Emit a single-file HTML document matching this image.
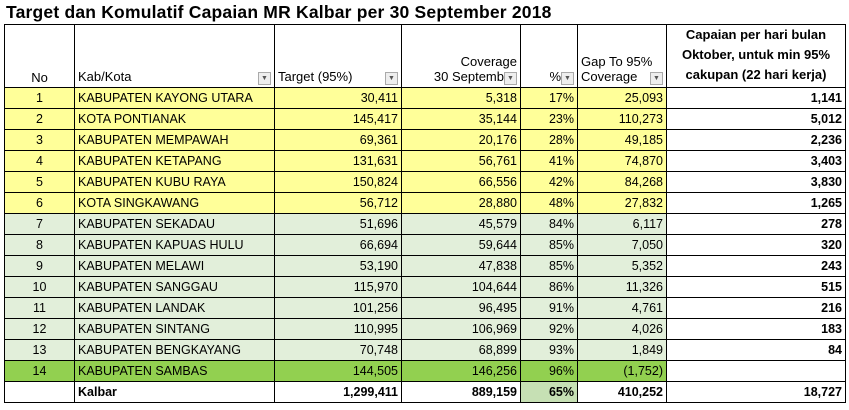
<!DOCTYPE html>
<html><head><meta charset="utf-8"><style>
body{margin:0;background:#fff;width:849px;height:410px;overflow:hidden;font-family:"Liberation Sans",sans-serif;}
h1{position:absolute;left:6px;top:2px;margin:0;font-size:17.5px;font-weight:bold;color:#000;letter-spacing:0.2px}
table{position:absolute;left:4px;top:24px;border-collapse:collapse;table-layout:fixed;font-size:12.5px}
td{border:1px solid #000;height:20px;padding:0 3px;white-space:nowrap;overflow:hidden;box-sizing:border-box}
tbody tr td{height:21px}
tr.h td{height:63px;vertical-align:bottom;padding-bottom:2px;background:#fff;font-size:13px}
.c{text-align:center}.r{text-align:right}
.y td{background:#ffff99}.g td{background:#e2efda}.s td{background:#92d050}
td.w{background:#fff!important;font-weight:bold;text-align:right}
.t td{background:#fff;font-weight:bold}
.dd{display:inline-block;width:11px;height:11px;border:1px solid #aaa;background:#eee;font-size:7px;line-height:11px;text-align:center;color:#555;vertical-align:middle;float:right;margin-top:3px}
</style></head><body>
<h1>Target dan Komulatif Capaian MR Kalbar per 30 September 2018</h1>
<table>
<colgroup><col style="width:70px"><col style="width:200px"><col style="width:127px"><col style="width:119px"><col style="width:57px"><col style="width:89px"><col style="width:179px"></colgroup>
<tr class="h">
<td class="c">No</td>
<td>Kab/Kota<span class="dd">▼</span></td>
<td>Target (95%)<span class="dd">▼</span></td>
<td class="r">Coverage<br>30 Septemb<span class="dd">▼</span></td>
<td class="r">%<span class="dd">▼</span></td>
<td>Gap To 95%<br>Coverage<span class="dd">▼</span></td>
<td class="c" style="font-weight:bold;line-height:20px">Capaian per hari bulan<br>Oktober, untuk min 95%<br>cakupan (22 hari kerja)</td>
</tr>
<tbody id="tb"></tbody>
</table>
<script>
const nos=[1,2,3,4,5,6,7,8,9,10,11,12,13,14];
const names=["KABUPATEN KAYONG UTARA","KOTA PONTIANAK","KABUPATEN MEMPAWAH","KABUPATEN KETAPANG","KABUPATEN KUBU RAYA","KOTA SINGKAWANG","KABUPATEN SEKADAU","KABUPATEN KAPUAS HULU","KABUPATEN MELAWI","KABUPATEN SANGGAU","KABUPATEN LANDAK","KABUPATEN SINTANG","KABUPATEN BENGKAYANG","KABUPATEN SAMBAS"];
const targets=["30,411","145,417","69,361","131,631","150,824","56,712","51,696","66,694","53,190","115,970","101,256","110,995","70,748","144,505"];
const coverage=["5,318","35,144","20,176","56,761","66,556","28,880","45,579","59,644","47,838","104,644","96,495","106,969","68,899","146,256"];
const pct=["17%","23%","28%","41%","42%","48%","84%","85%","85%","86%","91%","92%","93%","96%"];
const gaps=["25,093","110,273","49,185","74,870","84,268","27,832","6,117","7,050","5,352","11,326","4,761","4,026","1,849","(1,752)"];
const daily=["1,141","5,012","2,236","3,403","3,830","1,265","278","320","243","515","216","183","84",""];
const tb=document.getElementById('tb');
nos.forEach((n,i)=>{
  const tr=document.createElement('tr');
  tr.className=i<6?'y':(i<13?'g':'s');
  
  
  tr.innerHTML=`<td class="c">${n}</td><td>${names[i]}</td><td class="r">${targets[i]}</td><td class="r">${coverage[i]}</td><td class="r">${pct[i]}</td><td class="r">${gaps[i]}</td><td class="w">${daily[i]}</td>`;
  tb.appendChild(tr);
});
const t=document.createElement('tr');
t.className='t';


t.innerHTML='<td></td><td>Kalbar</td><td class="r">1,299,411</td><td class="r">889,159</td><td class="r" style="background:#c6e0b4">65%</td><td class="r">410,252</td><td class="r">18,727</td>';
tb.appendChild(t);
</script>
</body></html>
